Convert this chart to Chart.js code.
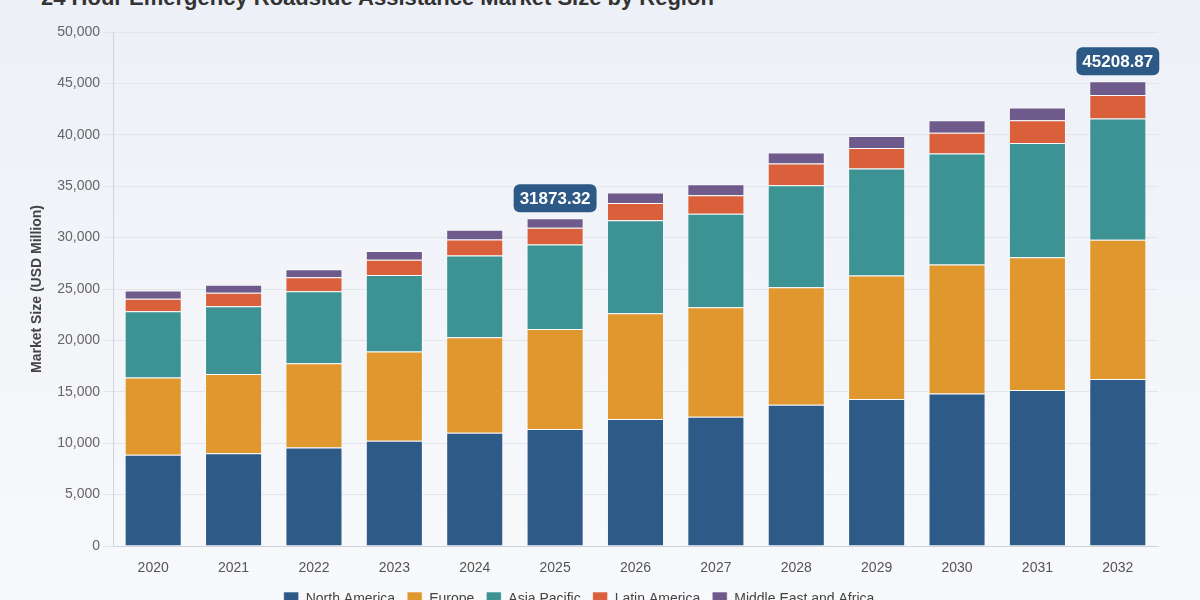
<!DOCTYPE html>
<html>
<head>
<meta charset="utf-8">
<script src="https://cdn.jsdelivr.net/npm/chart.js@4.4.1/dist/chart.umd.min.js"></script>
<style>
    html, body { margin: 0; padding: 0; width: 1200px; height: 600px; overflow: hidden; }
    body { background: linear-gradient(#edf0f7, #f8f9fb); position: relative; font-family: 'Liberation Sans', Arial, sans-serif; }
    #title { position: absolute; left: 41px; top: -15px; margin: 0; font-size: 22px; line-height: 26px; font-weight: bold; color: #333; white-space: nowrap; }
    #wrap { position: absolute; left: 0; top: 0; width: 1200px; height: 617px; }
</style>
</head>
<body>
<h1 id="title">24 Hour Emergency Roadside Assistance Market Size by Region</h1>
<div id="wrap"><canvas id="marketChart"></canvas></div>
<script>
Chart.defaults.font.family = "'Liberation Sans', Arial, sans-serif";
Chart.defaults.color = "#555";

const years = ["2020", "2021", "2022", "2023", "2024", "2025", "2026", "2027", "2028", "2029", "2030", "2031", "2032"];

const northAmerica = [8870, 9030, 9580, 10230, 11010, 11370, 12350, 12570, 13740, 14300, 14840, 15180, 16250];
const europe       = [7530, 7700, 8190, 8680, 9290, 9750, 10290, 10660, 11440, 12020, 12550, 12920, 13550];
const asiaPacific  = [6440, 6590, 7020, 7440, 7970, 8220, 9040, 9100, 9910, 10390, 10790, 11110, 11790];
const latinAmerica = [1200, 1310, 1360, 1500, 1550, 1620, 1680, 1780, 2110, 2010, 2010, 2210, 2270];
const middleEast   = [810, 780, 780, 840, 950, 913.32, 1020, 1080, 1070, 1170, 1230, 1240, 1348.87];

const highlightYears = ["2025", "2032"];

/* ------------------------------
   TOTAL CALLOUTS
------------------------------- */
const totalCallouts = {
    id: "totalCallouts",
    afterDatasetsDraw(chart) {
        const ctx = chart.ctx;
        const xs = chart.scales.x, ys = chart.scales.y;
        highlightYears.forEach(yr => {
            const i = years.indexOf(yr);
            let total = 0;
            chart.data.datasets.forEach(ds => total += ds.data[i]);
            const text = total.toFixed(2);
            const cx = xs.getPixelForValue(i);
            const top = ys.getPixelForValue(total);
            ctx.save();
            ctx.font = "bold 17px 'Liberation Sans', Arial, sans-serif";
            const w = ctx.measureText(text).width + 12;
            const h = 28;
            const bx = cx - w / 2, by = top - 6 - h;
            ctx.fillStyle = "#2c5985";
            ctx.beginPath();
            ctx.roundRect(bx, by, w, h, 6);
            ctx.fill();
            ctx.fillStyle = "#ffffff";
            ctx.textAlign = "center";
            ctx.textBaseline = "middle";
            ctx.fillText(text, cx, by + h / 2 + 1);
            ctx.restore();
        });
    }
};

/* ------------------------------
   MARKET CHART
------------------------------- */
function series(label, data, color) {
    return {
        label: label,
        data: data,
        backgroundColor: color,
        borderColor: "rgba(255,255,255,0.55)",
        borderWidth: 1,
        barPercentage: 0.71,
        categoryPercentage: 1
    };
}

new Chart(marketChart, {
    type: "bar",
    data: {
        labels: years,
        datasets: [
            series("North America", northAmerica, "#2d5a87"),
            series("Europe", europe, "#e0972e"),
            series("Asia Pacific", asiaPacific, "#3d9393"),
            series("Latin America", latinAmerica, "#d9603b"),
            series("Middle East and Africa", middleEast, "#6f5b8b")
        ]
    },
    options: {
        responsive: true,
        maintainAspectRatio: false,
        animation: false,
        layout: { padding: { left: 0, right: 42, top: 32, bottom: 0 } },
        plugins: {
            legend: {
                position: "bottom",
                labels: {
                    boxWidth: 15,
                    boxHeight: 15,
                    color: "#444",
                    font: { size: 14 },
                    padding: 12
                }
            },
            tooltip: { enabled: false }
        },
        scales: {
            x: {
                stacked: true,
                afterFit(s) { s.height = 34; },
                grid: { display: false },
                border: { color: "#cfd4de" },
                ticks: { color: "#555", font: { size: 14 }, padding: 6 }
            },
            y: {
                stacked: true,
                min: 0,
                max: 50000,
                afterFit(s) { s.width = 113; },
                grid: { color: "#e1e5ec", tickLength: 10 },
                border: { color: "#cfd4de" },
                ticks: {
                    stepSize: 5000,
                    color: "#666",
                    font: { size: 14 },
                    padding: 3,
                    callback: v => v.toLocaleString("en-US")
                },
                title: {
                    display: true,
                    text: "Market Size (USD Million)",
                    color: "#444",
                    font: { size: 14, weight: "bold" },
                    padding: { top: 29, bottom: 4 }
                }
            }
        }
    },
    plugins: [totalCallouts]
});
</script>
</body>
</html>
